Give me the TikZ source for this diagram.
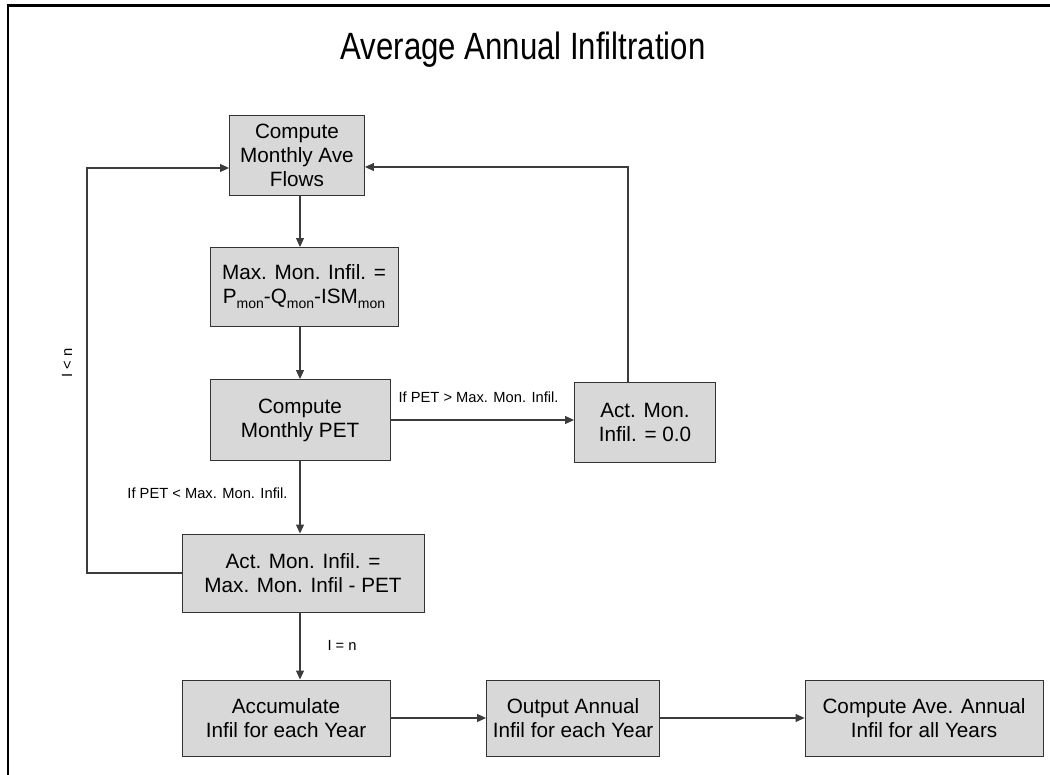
\documentclass[tikz,border=0pt]{standalone}
\usepackage{fontspec}
\setmainfont{Liberation Sans}
\newfontfamily\titlefont[FakeStretch=0.82]{Liberation Sans}
\usetikzlibrary{arrows.meta,positioning,calc}
\definecolor{boxgray}{HTML}{D8D8D8}
\definecolor{wiregray}{HTML}{3C3C3C}
\newcommand{\mon}{\raisebox{-0.45ex}{\fontsize{14}{14}\selectfont mon}}
\tikzset{
	flow chart/.style={
		x=1pt, y=-1pt,
		every node/.style={font=\fontsize{20.7}{24}\selectfont}},
	proc/.style 2 args={
		draw=black!80, fill=boxgray, line width=0.9pt,
		minimum width=#1pt, minimum height=#2pt,
		align=center, inner sep=2pt},
	lbl/.style={font=\fontsize{14.7}{16}\selectfont, inner sep=0pt},
	ar/.style={draw=wiregray, line width=1.1pt, -{Triangle[length=9pt,width=8pt]}},
	frame/.style={line width=#1pt, black}
}

\begin{document}
\begin{tikzpicture}[flow chart]
   \useasboundingbox (0,0) rectangle (1050,775);
   \draw[frame=3] (6.5,6) -- (1050,6);
   \draw[frame=2] (8,6) -- (8,775);
   \node[font=\titlefont\fontsize{38}{42}\selectfont] (title) at (523,50) {Average Annual Infiltration};
   % processing boxes
   \node[proc={135}{80}] (flows) at (297,155) {Compute\\Monthly Ave\\Flows};
   \node[proc={188}{79}] (maxinf) at (304,287) {Max. Mon. Infil. =\\P\mon-Q\mon-ISM\mon};
   \node[proc={180}{81}] (pet) at (300,420) {Compute\\Monthly PET};
   \node[proc={141}{80}] (zero) at (645,422) {Act. Mon.\\Infil. = 0.0};
   \node[proc={242}{78}] (act) at (303,573) {Act. Mon. Infil. =\\Max. Mon. Infil - PET};
   \node[proc={208}{76}] (accum) at (286,718) {Accumulate\\Infil for each Year};
   \node[proc={173}{76}] (annual) at (573,718) {Output Annual\\Infil for each Year};
   \node[proc={238}{76}] (aveall) at (924,718) {Compute Ave. Annual\\Infil for all Years};
   \coordinate (spine) at (300,0);
   \coordinate (loopL) at (87,168);
   \coordinate (loopR) at (628,167);
   \draw[ar] (flows.south -| spine) -- (maxinf.north -| spine);
   \draw[ar] (maxinf.south -| spine) -- (pet.north -| spine);
   \draw[ar] (pet.south -| spine) -- node[lbl, pos=0.45, left=12pt] {If PET < Max. Mon. Infil.} (act.north -| spine);
   \draw[ar] (act.south -| spine) -- node[lbl, pos=0.49, right=27pt] {I = n} (accum.north -| spine);
   \draw[ar] (pet.east) -- node[lbl, pos=0.48, above=17pt] {If PET > Max. Mon. Infil.} (zero.west |- pet.east);
   % loops back to the top
   \draw[ar] (act.west) -| (loopL) -- (flows.west |- loopL);
   \draw[ar] (zero.north -| loopR) |- (flows.east |- loopR);
   \node[lbl, rotate=90] (lessn) at (67,363) {I < n};
   \draw[ar] (accum) -- (annual);
   \draw[ar] (annual) -- (aveall);
\end{tikzpicture}
\end{document}
